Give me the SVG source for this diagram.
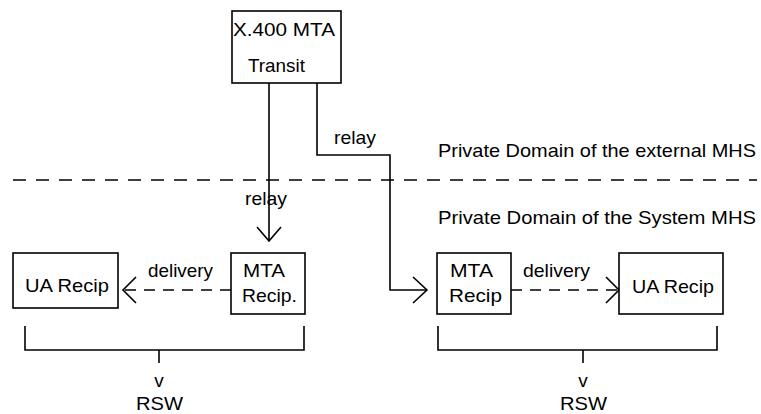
<svg xmlns="http://www.w3.org/2000/svg" width="761" height="414" viewBox="0 0 761 414">
<style>
.box{fill:#fff;stroke:#000;stroke-width:1.6}
.ln{fill:none;stroke:#000;stroke-width:1.6}
.ds{fill:none;stroke:#000;stroke-width:1.6;stroke-dasharray:11 8}
text{font-family:"Liberation Sans",Arial,sans-serif;font-size:19px;fill:#000}
.c{text-anchor:middle}
</style>
<rect width="761" height="414" fill="#fff"/>
<g id="domain">
<line class="ds" x1="13" y1="180" x2="757" y2="180" style="stroke-dasharray:13 10"/>
<text x="438" y="157" textLength="318" lengthAdjust="spacingAndGlyphs">Private Domain of the external MHS</text>
<text x="438" y="224" textLength="318" lengthAdjust="spacingAndGlyphs">Private Domain of the System MHS</text>
</g>
<g id="connectors">
<line class="ln" x1="269" y1="83" x2="269" y2="241"/>
<polyline class="ln" points="257,227 269,241 281,227"/>
<text x="245" y="205" textLength="42" lengthAdjust="spacingAndGlyphs">relay</text>
<polyline class="ln" points="317,83 317,155 390,155 390,290 427,290"/>
<polyline class="ln" points="413,277 427,290 413,303"/>
<text x="334" y="144" textLength="42" lengthAdjust="spacingAndGlyphs">relay</text>
<line class="ds" x1="231" y1="290" x2="123" y2="290"/>
<polyline class="ln" points="136,277 123,290 136,303"/>
<text x="148" y="277" textLength="65" lengthAdjust="spacingAndGlyphs">delivery</text>
<line class="ds" x1="511" y1="290" x2="619" y2="290"/>
<polyline class="ln" points="606,277 619,290 606,303"/>
<text x="523" y="277" textLength="67" lengthAdjust="spacingAndGlyphs">delivery</text>
</g>
<g id="mta-transit">
<rect class="box" x="232" y="11" width="109" height="72"/>
<text x="233" y="36" textLength="102" lengthAdjust="spacingAndGlyphs">X.400 MTA</text>
<text x="248" y="72" textLength="57" lengthAdjust="spacingAndGlyphs">Transit</text>
</g>
<g id="ua-recip-left">
<rect class="box" x="13" y="253" width="105" height="55"/>
<text x="25" y="292" textLength="84" lengthAdjust="spacingAndGlyphs">UA Recip</text>
</g>
<g id="mta-recip-left">
<rect class="box" x="231" y="253" width="74" height="61"/>
<text x="243" y="277" textLength="42" lengthAdjust="spacingAndGlyphs">MTA</text>
<text x="242" y="302" textLength="55" lengthAdjust="spacingAndGlyphs">Recip.</text>
</g>
<g id="mta-recip-right">
<rect class="box" x="437" y="253" width="74" height="61"/>
<text x="450" y="277" textLength="43" lengthAdjust="spacingAndGlyphs">MTA</text>
<text x="449" y="302" textLength="53" lengthAdjust="spacingAndGlyphs">Recip</text>
</g>
<g id="ua-recip-right">
<rect class="box" x="619" y="253" width="104" height="61"/>
<text x="632" y="293" textLength="82" lengthAdjust="spacingAndGlyphs">UA Recip</text>
</g>
<g id="rsw-left">
<polyline class="ln" points="25,326 25,350 304,350 304,326"/>
<line class="ln" x1="159" y1="350" x2="159" y2="363"/>
<text class="c" x="159" y="387">v</text>
<text x="136" y="410" textLength="47" lengthAdjust="spacingAndGlyphs">RSW</text>
</g>
<g id="rsw-right">
<polyline class="ln" points="438,326 438,350 717,350 717,326"/>
<line class="ln" x1="583" y1="350" x2="583" y2="363"/>
<text class="c" x="583" y="387">v</text>
<text x="560" y="410" textLength="47" lengthAdjust="spacingAndGlyphs">RSW</text>
</g>
</svg>
